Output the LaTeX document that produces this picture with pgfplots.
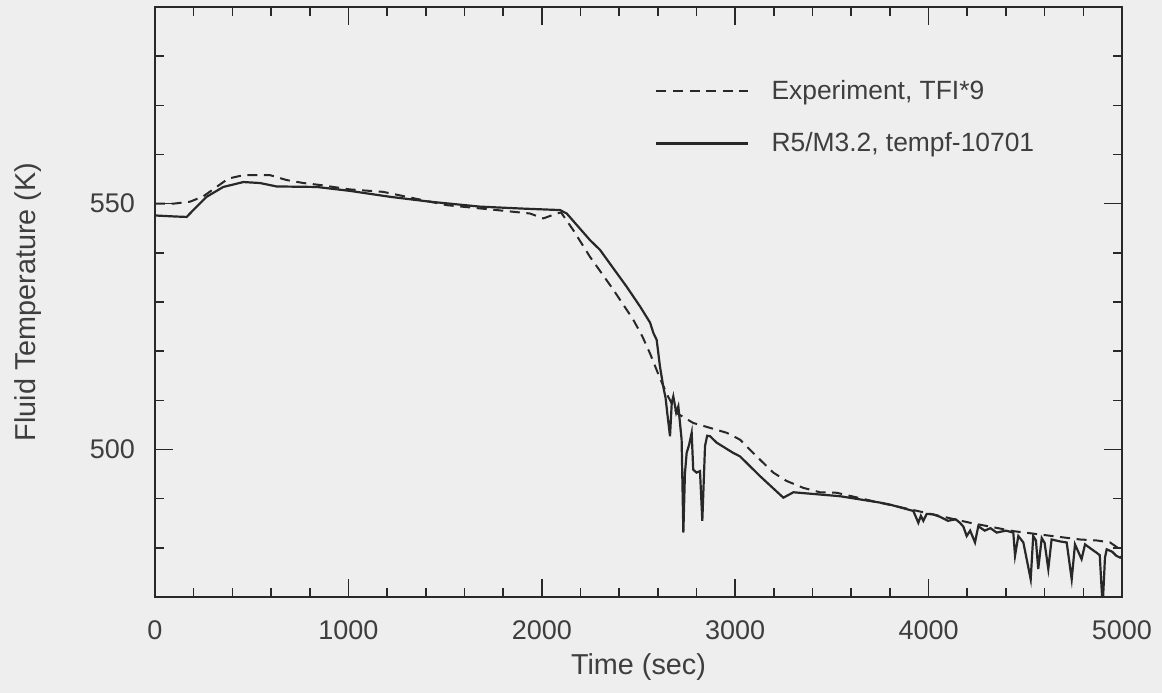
\documentclass[border=0pt]{standalone}
\usepackage{fontspec}
\setmainfont{Liberation Sans}
\usepackage{pgfplots}
\pgfplotsset{compat=1.18}
\usetikzlibrary{backgrounds}
\definecolor{textgray}{RGB}{62,62,62}
\definecolor{linegray}{RGB}{40,40,40}
\definecolor{bgcol}{RGB}{238,238,238}
\begin{document}
\begin{tikzpicture}
\begin{axis}[
  scale only axis,
  width=483.5pt, height=295pt,
  xmin=0, xmax=5000, ymin=470, ymax=590,
  xtick={0,1000,2000,3000,4000,5000},
  minor x tick num=4,
  ytick={500,550},
  minor ytick={480,490,510,520,530,540,560,570,580},
  major tick length=9pt, minor tick length=4.5pt,
  tick align=inside,
  axis line style={line width=0.8pt, color=linegray},
  every tick/.style={line width=0.8pt, color=linegray},
  /pgf/number format/assume math mode=true,
  /pgf/number format/set thousands separator={},
  tick label style={font=\fontsize{13.5}{16}\selectfont, color=textgray},
  xticklabel style={yshift=-8.5pt},
  yticklabel style={xshift=-6.5pt},
  xlabel={Time (sec)},
  ylabel={Fluid Temperature (K)},
  every axis x label/.style={at={(rel axis cs:0.5,-0.1186)}, anchor=center,
     font=\fontsize{14.4}{17}\selectfont, color=textgray},
  every axis y label/.style={at={(rel axis cs:-0.1313,0.5)}, rotate=90, anchor=center,
     font=\fontsize{14.4}{17}\selectfont, color=textgray},
  legend style={draw=none, fill=none, inner sep=0pt,
    at={(rel axis cs:0.517,0.8765)}, anchor=north west,
    font=\fontsize{13.2}{16}\selectfont, text=textgray,
    nodes={inner sep=0pt}, row sep=15pt,
    /tikz/every odd column/.append style={column sep=11pt}},
  legend cell align=left,
  legend image code/.code={\draw[#1] (0pt,0pt) -- (46pt,0pt);},
]
\coordinate (bgbl) at (rel axis cs:-0.1603,-0.1627);
\coordinate (bgtr) at (rel axis cs:1.0414,1.0119);

\addplot[color=linegray, line width=1pt, dash pattern=on 5pt off 3.3pt] coordinates {
(0,550.0) (95,550.0) (181,550.4) (250,551.5) (379,555.1) (457,555.8) (595,555.8)
(681,554.8) (767,554.2) (853,553.8) (1008,552.9) (1180,552.4) (1508,549.7)
(1767,548.7) (1939,548.0) (2008,547.0) (2077,548.0) (2100,548.2) (2163,544.6)
(2249,539.2) (2370,532.5) (2473,526.4) (2520,523.0) (2560,519.5) (2611,514.5)
(2650,511.0) (2698,507.4) (2783,505.4) (2870,504.4) (2956,503.4) (3025,502.0)
(3111,498.6) (3197,495.3) (3266,493.6) (3352,492.2) (3438,491.3) (3525,491.2)
(3700,489.6) (4000,487.0) (4214,485.1) (4438,483.4) (4559,482.8) (4783,481.7)
(4869,481.5) (4938,481.1) (4990,479.7) (5000,479.6)
};
\addlegendentry{Experiment, TFI*9}

\addplot[color=linegray, line width=1.1pt] coordinates {
(0,547.6) (100,547.4) (164,547.3) (198,548.7) (267,551.4) (353,553.4) (457,554.4)
(543,554.2) (629,553.5) (836,553.4) (1008,552.6) (1215,551.4) (1422,550.4)
(1680,549.4) (1900,549.0) (2094,548.7) (2129,548.0) (2249,542.6) (2301,540.6)
(2439,533.1) (2508,529.1) (2560,525.8) (2577,523.7) (2594,522.3) (2611,516.9)
(2628,512.8) (2640,510.5) (2650,507.0) (2663,502.7) (2672,509.5) (2680,510.8)
(2695,507.5) (2706,508.8) (2723,502.0) (2732,483.1) (2740,495.0) (2749,499.3)
(2762,501.0) (2775,503.4) (2783,495.9) (2800,495.3) (2818,495.6) (2830,485.5)
(2844,500.7) (2855,502.8) (2870,502.7) (2904,501.4) (2990,499.3) (3025,498.6)
(3128,494.6) (3249,490.2) (3301,491.3) (3542,490.5) (3749,489.2) (3800,488.8)
(3921,487.5) (3947,485.1) (3960,486.5) (3973,485.5) (3990,486.9) (4024,486.8)
(4060,486.3) (4100,485.5) (4140,485.8) (4162,485.1) (4180,484.3) (4197,482.4)
(4215,483.5) (4240,481.1) (4257,484.4) (4290,483.5) (4320,484.0) (4352,483.1)
(4400,483.5) (4438,483.1) (4447,478.4) (4464,482.4) (4490,481.1) (4528,473.6)
(4541,482.4) (4555,481.5) (4567,475.7) (4585,482.0) (4600,481.0) (4619,475.7)
(4636,481.7) (4680,481.3) (4714,481.1) (4740,473.6) (4757,480.7) (4791,477.7)
(4809,480.7) (4840,479.8) (4869,479.0) (4885,478.5) (4900,468.0) (4912,478.0)
(4921,479.7) (4950,479.2) (4970,478.4) (4990,478.0) (5000,478.3)
};
\addlegendentry{R5/M3.2, tempf-10701}
\end{axis}
\begin{pgfonlayer}{background}
\fill[bgcol] (bgbl) rectangle (bgtr);
\end{pgfonlayer}
\end{tikzpicture}
\end{document}
